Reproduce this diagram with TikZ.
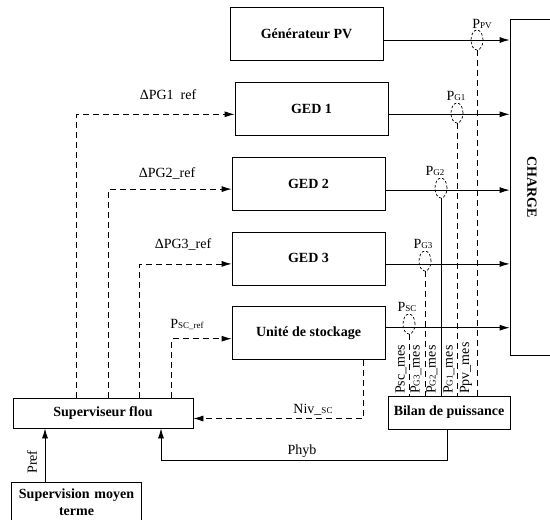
\documentclass[tikz,border=0pt]{standalone}
\usepackage{fontspec}
\setmainfont{Liberation Serif}
\usepackage{graphicx}
\usetikzlibrary{shapes.geometric, arrows.meta, positioning, calc}

\newcommand{\idx}[1]{{\fontsize{9}{10}\selectfont #1}}

\begin{document}
\begin{tikzpicture}[x=1pt, y=-1pt,
    box/.style={draw, rectangle, line width=0.8pt, minimum width=153pt, minimum height=53pt, align=center, font=\bfseries\fontsize{14}{17}\selectfont},
    lbl/.style={inner sep=1pt, font=\fontsize{14}{16}\selectfont},
    probe/.style={draw, ellipse, line width=0.7pt, dash pattern=on 2.5pt off 2pt, minimum width=12pt, minimum height=20pt, inner sep=0pt},
    arrow/.style={line width=0.8pt, -{Latex[length=10pt, width=6pt]}},
    dasharrow/.style={arrow, dash pattern=on 6pt off 4pt},
    meas/.style={line width=0.8pt, dash pattern=on 6pt off 4pt}
]
\useasboundingbox (0,0) rectangle (550,520);
\clip (0,0) rectangle (550,520);

% Sources
\node (gen) [box] at (306.5,34) {Générateur PV};
\node (ged1) [box, below=21pt of gen, xshift=5pt] {GED 1};
\node (ged2) [box, below=21pt of ged1, xshift=-3pt] {GED 2};
\node (ged3) [box, below=21pt of ged2] {GED 3};
\node (unite) [box, below=21pt of ged3] {Unité de stockage};

\node (charge) [box, minimum width=44pt, minimum height=336pt] at (532,187) {\rotatebox{-90}{CHARGE}};

% Supervision
\node (sup) [box, minimum width=180pt, minimum height=30pt] at (103,413) {Superviseur flou};
\node (bilan) [box, minimum width=122pt, minimum height=33pt] at (449,412.5) {Bilan de puissance};
\node (moyen) [box, minimum width=127pt, minimum height=0pt, text width=118pt, anchor=north, inner sep=6pt] at (76.5,482) {Supervision moyen\\ terme};

% Power flows to the load
\coordinate (opv) at ([yshift=-6pt]gen.east);
\coordinate (og1) at ([yshift=-5.5pt]ged1.east);
\coordinate (og2) at ([yshift=-6.5pt]ged2.east);
\coordinate (og3) at ([yshift=-5.5pt]ged3.east);
\coordinate (osc) at ([yshift=5.5pt]unite.east);
\draw [arrow] (opv) -- (opv -| charge.west);
\draw [arrow] (og1) -- (og1 -| charge.west);
\draw [arrow] (og2) -- (og2 -| charge.west);
\draw [arrow] (og3) -- (og3 -| charge.west);
\draw [arrow] (osc) -- (osc -| charge.west);

% Measurements
\node (mpv) [probe] at (477,40) {};
\node (mg1) [probe] at (457,113) {};
\node (mg2) [probe] at (441,188) {};
\node (mg3) [probe] at (425,261) {};
\node (msc) [probe] at (409,324) {};

\node (lpv) [lbl, above=0pt of mpv, xshift=5pt] {P\idx{PV}};
\node (lg1) [lbl, above=1pt of mg1, xshift=-1pt] {P\idx{G1}};
\node (lg2) [lbl, above=1pt of mg2, xshift=-6pt] {P\idx{G2}};
\node (lg3) [lbl, above=1pt of mg3, xshift=-2pt] {P\idx{G3}};
\node (lsc) [lbl, above=1pt of msc, xshift=-2pt] {P\idx{SC}};

\draw [meas] (mpv.south) -- (mpv.south |- bilan.north);
\draw [meas] (mg1.south) -- (mg1.south |- bilan.north);
\draw [line width=0.8pt] (mg2.south) -- (mg2.south |- bilan.north);
\draw [meas] (mg3.south) -- (mg3.south |- bilan.north);
\draw [meas] (msc.south) -- (msc.south |- bilan.north);

\node (msc_mes) [lbl, rotate=90, anchor=west] at (401,395) {Psc\_mes};
\node (mg3_mes) [lbl, rotate=90, anchor=west] at (416,395) {P\idx{G3}\_mes};
\node (mg2_mes) [lbl, rotate=90, anchor=west] at (432,395) {P\idx{G2}\_mes};
\node (mg1_mes) [lbl, rotate=90, anchor=west] at (449,395) {P\idx{G1}\_mes};
\node (mpv_mes) [lbl, rotate=90, anchor=west] at (466,395) {Ppv\_mes};

% References
\draw [dasharrow] ([xshift=64pt]sup.north west) |- ([yshift=-5.5pt]ged1.west);
\draw [dasharrow] ([xshift=96pt]sup.north west) |- ([yshift=-5.5pt]ged2.west);
\draw [dasharrow] ([xshift=127pt]sup.north west) |- ([yshift=-5.5pt]ged3.west);
\draw [dasharrow] ([xshift=159pt]sup.north west) |- ([yshift=-5.5pt]unite.west);

\node (rg1) [lbl] at (168,95) {ΔPG1\ \ ref};
\node (rg2) [lbl] at (167,173) {ΔPG2\_ref};
\node (rg3) [lbl] at (183,244) {ΔPG3\_ref};
\node (rsc) [lbl] at (187,324) {P\idx{SC\_ref}};

% Feedback
\draw [dasharrow] ([xshift=-22pt]unite.south east) |- ([yshift=-5.5pt]sup.east);
\node (niv) [lbl] at (313,410) {Niv\_\idx{SC}};

\draw [arrow] ([xshift=-2pt]bilan.south) -- ++(0,31) -| ([xshift=58pt]sup.south);
\node (phyb) [lbl] at (302,451) {Phyb};

\coordinate (pref) at ([xshift=-31.5pt]moyen.north);
\draw [arrow] (pref) -- (pref |- sup.south);
\node (lpref) [lbl, rotate=90] at (32,462) {Pref};

\end{tikzpicture}
\end{document}
